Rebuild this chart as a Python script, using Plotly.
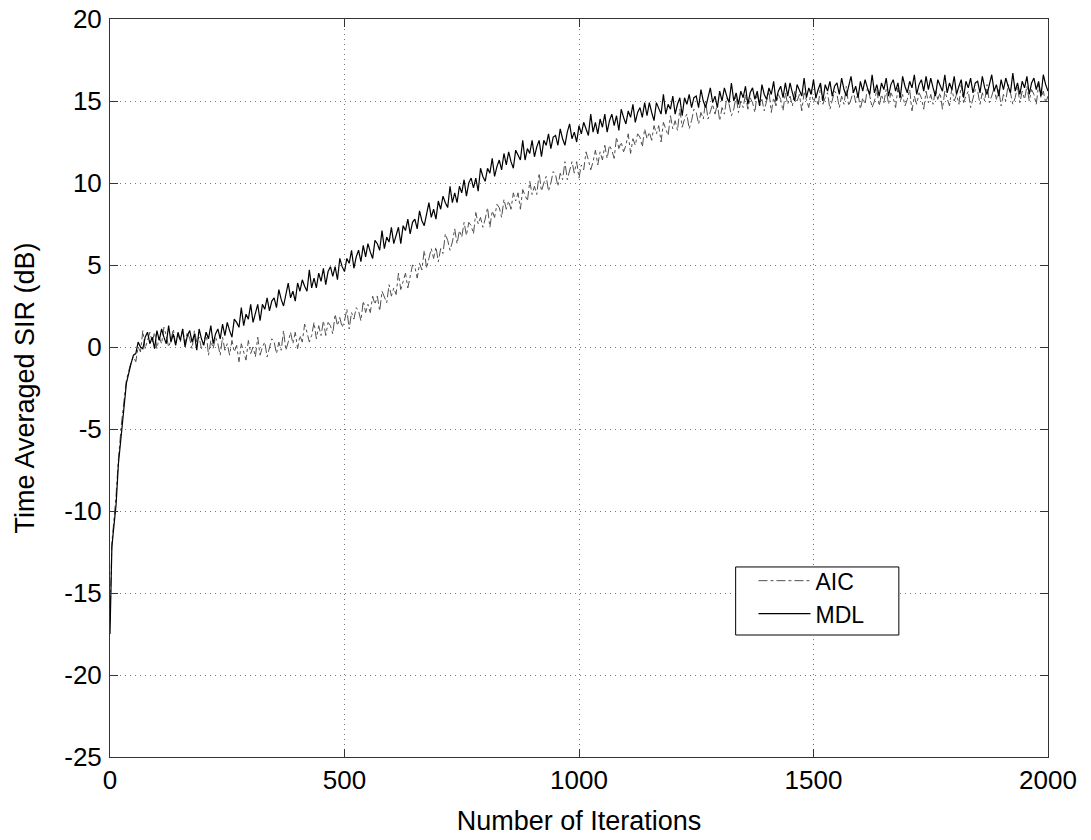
import plotly.graph_objects as go

# iteration index: a few early samples for the fast start, then every 5 iterations
iters = [0, 2, 4, 7, 10, 13, 18, 25, 35, 45] + list(range(50, 2001, 5))

# Time averaged SIR (dB), one row per 100 iterations
aic_sir = [
    -16.8, -13.0, -11.9, -11.0, -10.0, -9.0, -6.8, -4.5, -2.0, -0.9,
    -0.6, -0.9, 0.0, -0.3, 1.0, -0.1, 0.4, 0.9, 0.3, 0.9, -0.1, 0.6, 0.2, 1.2, 0.7, 0.0, 0.4, 1.1, 0.1, 0.8,
    0.3, 1.1, 0.2, 0.9, 0.5, -0.1, 1.0, 0.3, 0.6, -0.1, 0.3, 0.9, -0.5, 0.4, -0.1, 0.6, 0.2, -0.5, 0.6, -0.2,
    0.2, -0.5, 0.4, -0.3, 0.1, -0.9, 0.2, -0.3, -0.8, 0.4, -0.4, 0.0, -0.6, 0.6, -0.5, 0.0, 0.3, -0.6, -0.1, 0.5,
    0.3, -0.4, 0.3, -0.2, 1.0, -0.2, 0.3, 0.9, 0.2, 0.9, -0.1, 0.7, 0.3, 1.4, 0.9, 0.3, 0.7, 1.5, 0.5, 1.3,
    0.7, 1.6, 0.7, 1.5, 1.3, 0.8, 2.0, 1.3, 1.8, 1.2, 1.6, 2.3, 1.1, 2.1, 1.7, 2.4, 2.2, 1.6, 2.8, 2.1,
    2.6, 2.1, 3.1, 2.6, 3.1, 2.2, 3.4, 3.1, 2.7, 3.8, 3.1, 3.6, 3.2, 4.5, 3.5, 4.0, 4.5, 3.6, 4.2, 5.0,
    4.9, 4.2, 5.1, 4.7, 5.9, 4.8, 5.4, 6.0, 5.4, 6.1, 5.2, 6.0, 5.7, 6.9, 6.5, 5.9, 6.4, 7.2, 6.3, 7.1,
    6.7, 7.6, 6.8, 7.6, 7.4, 6.9, 8.2, 7.5, 7.9, 7.3, 7.8, 8.5, 7.3, 8.3, 7.9, 8.7, 8.5, 7.9, 9.0, 8.4,
    8.9, 8.4, 9.4, 8.9, 9.4, 8.4, 9.6, 9.3, 8.9, 10.1, 9.3, 9.8, 9.3, 10.6, 9.5, 10.0, 10.4, 9.5, 10.0, 10.7,
    10.5, 9.8, 10.6, 10.2, 11.3, 10.2, 10.7, 11.3, 10.6, 11.3, 10.3, 11.1, 10.8, 11.9, 11.4, 10.8, 11.3, 12.0, 11.1, 11.9,
    11.4, 12.3, 11.5, 12.3, 12.0, 11.5, 12.8, 12.1, 12.5, 11.9, 12.3, 13.0, 11.8, 12.7, 12.3, 13.0, 12.8, 12.2, 13.3, 12.7,
    13.1, 12.6, 13.5, 13.0, 13.5, 12.5, 13.7, 13.3, 12.9, 14.1, 13.3, 13.8, 13.2, 14.5, 13.4, 13.9, 14.2, 13.3, 13.8, 14.5,
    14.3, 13.6, 14.3, 13.9, 15.0, 13.9, 14.3, 14.8, 14.2, 14.8, 13.8, 14.6, 14.2, 15.2, 14.8, 14.1, 14.5, 15.3, 14.3, 15.0,
    14.6, 15.4, 14.5, 15.2, 14.9, 14.3, 15.5, 14.7, 15.1, 14.4, 15.0, 15.6, 14.3, 15.2, 14.7, 15.4, 15.1, 14.4, 15.5, 14.8,
    15.3, 14.7, 15.6, 15.0, 15.4, 14.4, 15.5, 15.1, 14.6, 15.7, 14.9, 15.3, 14.7, 15.9, 14.8, 15.2, 15.5, 14.5, 15.0, 15.6,
    15.4, 14.6, 15.3, 14.8, 15.9, 14.7, 15.1, 15.6, 14.9, 15.5, 14.5, 15.2, 14.8, 15.8, 15.3, 14.6, 15.0, 15.7, 14.7, 15.4,
    14.9, 15.7, 14.8, 15.5, 15.2, 14.6, 15.8, 15.0, 15.4, 14.7, 15.1, 15.7, 14.4, 15.3, 14.8, 15.5, 15.2, 14.5, 15.6, 14.9,
    15.4, 14.8, 15.7, 15.1, 15.5, 14.5, 15.6, 15.2, 14.7, 15.8, 15.0, 15.4, 14.8, 16.0, 14.9, 15.3, 15.6, 14.6, 15.1, 15.7,
    15.6, 14.8, 15.5, 15.0, 16.0, 14.9, 15.3, 15.8, 15.1, 15.7, 14.7, 15.4, 15.0, 16.0, 15.5, 14.8, 15.2, 15.9, 14.9, 15.6,
    15.1, 15.9, 15.0, 15.7, 15.4, 14.8, 16.0, 15.2, 15.6, 14.9, 15.3,
]

mdl_sir = [
    -17.5, -14.5, -12.2, -11.3, -10.5, -9.6, -7.1, -4.9, -2.2, -1.0,
    -0.5, -0.4, 0.3, 0.0, -0.1, 0.6, 0.9, 0.2, 0.6, -0.1, 1.0, 0.4, 1.1, 0.6, 0.2, 1.3, 0.3, 0.8, 0.1, 0.9,
    0.4, 1.1, 0.0, 0.7, 1.0, 0.3, 0.8, -0.2, 1.1, 0.5, 0.1, 0.9, 0.5, 1.3, 0.2, 0.8, 1.1, 0.5, 1.4, 0.7,
    1.5, 1.0, 0.6, 1.7, 1.5, 1.2, 2.4, 1.3, 2.0, 1.7, 2.6, 1.5, 2.1, 2.6, 1.6, 2.6, 2.3, 3.0, 2.2, 2.8,
    3.0, 2.4, 3.5, 2.9, 2.5, 3.3, 3.9, 3.0, 3.4, 2.8, 3.9, 3.4, 4.1, 3.7, 3.4, 4.7, 3.6, 4.2, 3.6, 4.5,
    4.0, 4.8, 3.8, 4.6, 4.9, 4.3, 4.9, 4.1, 5.4, 4.9, 4.6, 5.4, 5.1, 5.9, 4.8, 5.5, 5.9, 5.2, 6.2, 5.5,
    6.3, 5.8, 5.4, 6.5, 6.3, 5.9, 7.1, 6.0, 6.7, 6.4, 7.3, 6.3, 6.8, 7.3, 6.3, 7.4, 7.1, 7.8, 6.9, 7.6,
    7.8, 7.2, 8.3, 7.7, 7.4, 8.2, 8.8, 7.9, 8.4, 7.8, 8.9, 8.4, 9.2, 8.8, 8.5, 9.8, 8.8, 9.4, 8.8, 9.8,
    9.4, 10.2, 9.2, 10.0, 10.3, 9.7, 10.3, 9.5, 10.9, 10.4, 10.1, 10.9, 10.6, 11.5, 10.4, 11.0, 11.4, 10.8, 11.8, 11.1,
    11.9, 11.3, 10.9, 12.0, 11.7, 11.4, 12.6, 11.4, 12.1, 11.8, 12.6, 11.6, 12.2, 12.6, 11.6, 12.6, 12.3, 13.0, 12.1, 12.8,
    12.9, 12.3, 13.3, 12.7, 12.3, 13.1, 13.6, 12.7, 13.1, 12.5, 13.5, 13.0, 13.7, 13.3, 12.9, 14.2, 13.1, 13.7, 13.0, 13.9,
    13.4, 14.2, 13.1, 13.8, 14.2, 13.5, 14.1, 13.2, 14.5, 14.0, 13.6, 14.4, 14.0, 14.8, 13.7, 14.3, 14.6, 14.0, 14.9, 14.1,
    14.9, 14.3, 13.8, 14.9, 14.6, 14.2, 15.4, 14.2, 14.8, 14.5, 15.3, 14.2, 14.8, 15.2, 14.1, 15.2, 14.8, 15.4, 14.6, 15.2,
    15.3, 14.6, 15.7, 15.0, 14.6, 15.3, 15.8, 14.9, 15.3, 14.6, 15.6, 15.0, 15.8, 15.3, 14.9, 16.1, 15.0, 15.5, 14.8, 15.6,
    15.2, 15.9, 14.8, 15.5, 15.8, 15.1, 15.6, 14.7, 16.0, 15.4, 15.1, 15.8, 15.4, 16.2, 15.0, 15.6, 15.9, 15.2, 16.1, 15.3,
    16.1, 15.5, 15.0, 16.0, 15.7, 15.3, 16.4, 15.2, 15.8, 15.4, 16.3, 15.2, 15.7, 16.1, 15.0, 16.0, 15.6, 16.2, 15.3, 15.9,
    16.1, 15.4, 16.4, 15.7, 15.3, 16.0, 16.5, 15.5, 15.9, 15.2, 16.2, 15.6, 16.3, 15.8, 15.4, 16.6, 15.5, 16.0, 15.3, 16.1,
    15.7, 16.4, 15.3, 16.0, 16.3, 15.6, 16.1, 15.2, 16.5, 15.9, 15.5, 16.2, 15.8, 16.6, 15.4, 16.0, 16.3, 15.6, 16.5, 15.7,
    16.4, 15.8, 15.3, 16.3, 16.0, 15.6, 16.6, 15.5, 16.1, 15.7, 16.5, 15.4, 15.9, 16.3, 15.2, 16.2, 15.8, 16.4, 15.5, 16.1,
    16.2, 15.5, 16.5, 15.8, 15.4, 16.1, 16.6, 15.6, 16.0, 15.3, 16.3, 15.7, 16.4, 15.9, 15.5, 16.7, 15.6, 16.1, 15.4, 16.2,
    15.8, 16.5, 15.4, 16.1, 16.4, 15.7, 16.2, 15.3, 16.6, 16.0, 15.6,
]

x_ticks = [0, 500, 1000, 1500, 2000]
y_ticks = [-25, -20, -15, -10, -5, 0, 5, 10, 15, 20]
y_tick_text = ["-25", "-20", "-15", "-10", "-5", "0", "5", "10", "15", "20"]

fig = go.Figure()
fig.add_trace(go.Scatter(x=iters, y=aic_sir, name="AIC", mode="lines",
                         line=dict(color="#505050", width=1, dash="dashdot")))
fig.add_trace(go.Scatter(x=iters, y=mdl_sir, name="MDL", mode="lines",
                         line=dict(color="black", width=1.2)))

axis_style = dict(
    showline=True, linecolor="#333333", linewidth=1, mirror="ticks",
    ticks="inside", ticklen=8, tickcolor="#333333", automargin=False,
    ticklabeloverflow="allow",
    showgrid=True, gridcolor="#777777", gridwidth=1, griddash="1px,4px",
    zeroline=False, tickfont=dict(family="Liberation Sans, Arial", size=26, color="black"),
)

# legend frame drawn as a white box, legend entries sit on it without their own border
fig.add_shape(type="rect", xref="paper", yref="paper",
              x0=0.667, x1=0.841, y0=0.1653, y1=0.2575,
              line=dict(color="black", width=1), fillcolor="white", layer="above")

fig.update_layout(
    width=1091, height=840,
    margin=dict(l=110, r=43, t=19, b=83),
    plot_bgcolor="white", paper_bgcolor="white",
    font=dict(family="Liberation Sans, Arial", size=26, color="black"),
    showlegend=True,
    legend=dict(x=0.686, y=0.268, xanchor="left", yanchor="top",
                borderwidth=0, bgcolor="rgba(0,0,0,0)",
                font=dict(size=23), tracegroupgap=0, itemwidth=52),
)
fig.update_xaxes(axis_style, range=[0, 2000], tickvals=x_ticks, ticklabelstandoff=0,
                 title=dict(text="Number of Iterations", font=dict(size=27), standoff=16))
fig.update_yaxes(axis_style, range=[-25, 20], tickvals=y_ticks, ticktext=y_tick_text,
                 ticklabelstandoff=2,
                 title=dict(text="Time Averaged SIR (dB)", font=dict(size=27), standoff=21))

# drop the default 8px page margin so the figure fills the window exactly
fig.write_html("out.html", config={"displayModeBar": False},
               post_script="document.body.style.margin='0';")
